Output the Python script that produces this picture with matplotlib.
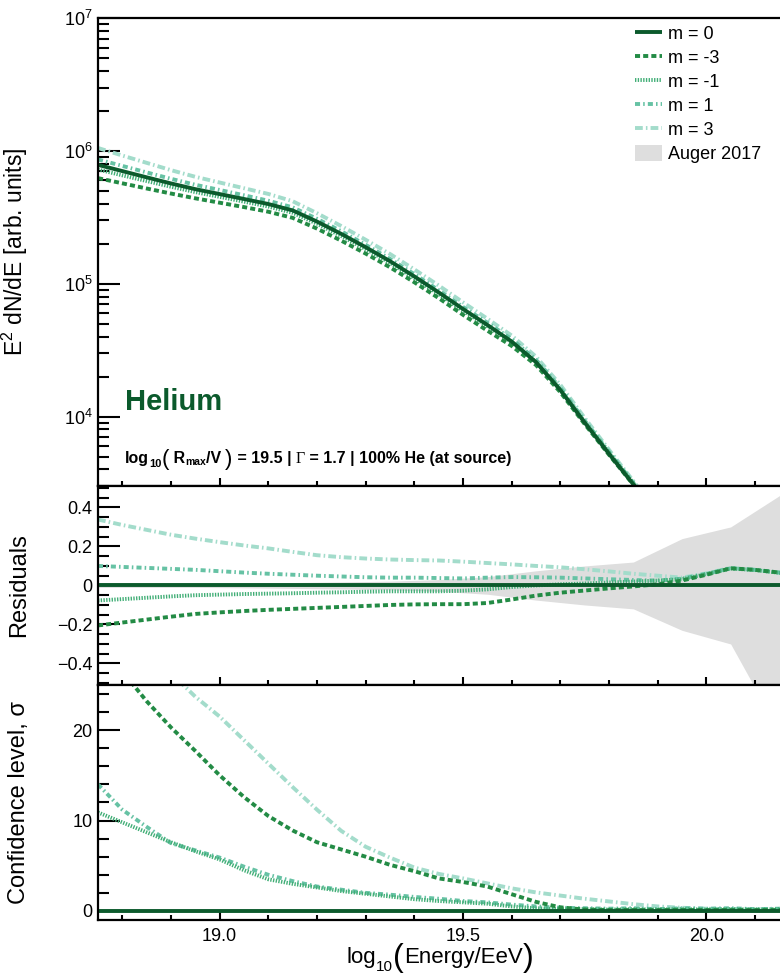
import numpy as np
import matplotlib
matplotlib.use('Agg')
import matplotlib.pyplot as plt
from matplotlib.lines import Line2D
from matplotlib.patches import Patch
from matplotlib.ticker import MultipleLocator, LogLocator, NullFormatter

plt.rcParams['font.family'] = ['Liberation Sans', 'DejaVu Sans']
plt.rcParams['mathtext.fontset'] = 'custom'
plt.rcParams['mathtext.rm'] = 'Liberation Sans'
plt.rcParams['mathtext.it'] = 'Liberation Sans:italic'
plt.rcParams['mathtext.bf'] = 'Liberation Sans:bold'

# ---- data ----
# spectrum panel, log10(E^2 dN/dE)
logE_top = [18.75, 18.80, 18.85, 18.90, 18.95, 19.00, 19.05, 19.10, 19.15, 19.20,
            19.25, 19.30, 19.35, 19.40, 19.45, 19.50, 19.55, 19.60, 19.65, 19.70,
            19.75, 19.80, 19.85, 19.90, 19.95, 20.00]
flux_m0 = [5.895, 5.848, 5.801, 5.755, 5.712, 5.675, 5.638, 5.600, 5.552, 5.468,
           5.375, 5.275, 5.170, 5.055, 4.935, 4.810, 4.690, 4.565, 4.410, 4.200,
           3.955, 3.720, 3.490, 3.250, 3.000, 2.750]
flux_mm3 = [5.795, 5.756, 5.717, 5.679, 5.643, 5.610, 5.577, 5.542, 5.496, 5.415,
            5.324, 5.227, 5.124, 5.011, 4.892, 4.766, 4.647, 4.532, 4.388, 4.184,
            3.944, 3.713, 3.488, 3.253, 3.011, 2.773]
flux_mm1 = [5.860, 5.816, 5.773, 5.730, 5.690, 5.654, 5.618, 5.581, 5.534, 5.452,
            5.359, 5.261, 5.157, 5.042, 4.922, 4.798, 4.681, 4.561, 4.410, 4.203,
            3.959, 3.727, 3.499, 3.261, 3.014, 2.775]
flux_m1 = [5.936, 5.887, 5.838, 5.790, 5.745, 5.706, 5.666, 5.625, 5.575, 5.489,
           5.395, 5.293, 5.187, 5.072, 4.951, 4.825, 4.707, 4.583, 4.428, 4.217,
           3.970, 3.734, 3.502, 3.261, 3.015, 2.775]
flux_m3 = [6.022, 5.965, 5.910, 5.855, 5.805, 5.762, 5.719, 5.676, 5.621, 5.531,
           5.434, 5.331, 5.224, 5.108, 4.987, 4.860, 4.737, 4.610, 4.451, 4.239,
           3.990, 3.750, 3.515, 3.271, 3.017, 2.776]

# residual + confidence panels
logE = [18.75, 18.80, 18.85, 18.90, 18.95, 19.00, 19.05, 19.10, 19.15, 19.20,
        19.25, 19.30, 19.35, 19.40, 19.45, 19.50, 19.55, 19.60, 19.65, 19.70,
        19.75, 19.80, 19.85, 19.90, 19.95, 20.00, 20.05, 20.10, 20.15, 20.20]
res_m0 = [0.0] * 30
res_mm3 = [-0.205, -0.19, -0.175, -0.16, -0.146, -0.138, -0.131, -0.125, -0.12, -0.115,
           -0.11, -0.105, -0.1, -0.097, -0.096, -0.096, -0.09, -0.072, -0.052, -0.037,
           -0.026, -0.015, -0.005, 0.006, 0.025, 0.055, 0.088, 0.08, 0.066, 0.06]
res_mm1 = [-0.077, -0.07, -0.063, -0.056, -0.05, -0.047, -0.044, -0.042, -0.04, -0.037,
           -0.035, -0.032, -0.03, -0.03, -0.03, -0.027, -0.02, -0.008, 0.0, 0.006,
           0.01, 0.015, 0.02, 0.025, 0.032, 0.058, 0.087, 0.079, 0.065, 0.06]
res_m1 = [0.10, 0.095, 0.09, 0.085, 0.08, 0.073, 0.066, 0.06, 0.055, 0.05,
          0.046, 0.042, 0.04, 0.04, 0.038, 0.036, 0.04, 0.043, 0.042, 0.04,
          0.036, 0.032, 0.028, 0.025, 0.035, 0.06, 0.088, 0.08, 0.066, 0.06]
res_m3 = [0.338, 0.31, 0.285, 0.26, 0.24, 0.222, 0.205, 0.19, 0.172, 0.155,
          0.145, 0.138, 0.133, 0.13, 0.128, 0.122, 0.115, 0.108, 0.1, 0.093,
          0.083, 0.072, 0.06, 0.05, 0.04, 0.062, 0.09, 0.08, 0.066, 0.06]

sig_m0 = [0.0] * 30
sig_mm3 = [30.5, 26.5, 23.2, 20.3, 17.7, 15.0, 12.6, 10.5, 8.9, 7.6,
           6.8, 6.0, 5.1, 4.4, 3.6, 3.2, 2.7, 1.85, 1.0, 0.4,
           0.15, 0.1, 0.1, 0.1, 0.1, 0.1, 0.1, 0.1, 0.1, 0.1]
sig_mm1 = [10.9, 9.8, 8.7, 7.6, 6.6, 5.7, 4.5, 3.5, 3.0, 2.6,
           2.2, 1.9, 1.6, 1.3, 1.1, 0.95, 0.8, 0.5, 0.3, 0.2,
           0.2, 0.15, 0.2, 0.15, 0.2, 0.15, 0.2, 0.15, 0.2, 0.2]
sig_m1 = [14.0, 11.2, 9.3, 7.5, 6.7, 5.9, 4.9, 4.0, 3.3, 2.7,
          2.35, 2.0, 1.8, 1.55, 1.35, 1.1, 0.95, 0.7, 0.5, 0.35,
          0.3, 0.25, 0.3, 0.2, 0.3, 0.25, 0.3, 0.2, 0.25, 0.25]
sig_m3 = [36.0, 32.5, 29.3, 26.3, 23.7, 21.5, 18.9, 16.3, 13.7, 11.2,
          8.85, 7.1, 5.9, 4.8, 4.1, 3.6, 3.05, 2.5, 2.05, 1.7,
          1.35, 1.05, 0.75, 0.5, 0.35, 0.25, 0.2, 0.2, 0.2, 0.2]

# Auger 2017 band (relative uncertainty)
logE_auger = [18.75, 18.85, 18.95, 19.05, 19.15, 19.25, 19.35, 19.45,
              19.55, 19.65, 19.75, 19.85, 19.95, 20.05, 20.15, 20.25]
auger_up = [0.01, 0.01, 0.01, 0.012, 0.015, 0.018, 0.022, 0.03,
            0.045, 0.075, 0.1, 0.12, 0.24, 0.3, 0.46, 0.6]
auger_lo = [-0.01, -0.01, -0.01, -0.012, -0.015, -0.018, -0.022, -0.03,
            -0.045, -0.075, -0.1, -0.12, -0.23, -0.3, -0.75, -1.0]

labels = ['m = 0', 'm = -3', 'm = -1', 'm = 1', 'm = 3']
colors = ['#0b5a2c', '#238b45', '#41ae76', '#66c2a4', '#a3dccb']
dashes = [None, (1.3, 0.8), (0.35, 0.35), (1.3, 0.8, 0.4, 0.8), (2.0, 0.8, 0.4, 0.8)]
lw = 2.8

top_series = [flux_m0, flux_mm3, flux_mm1, flux_m1, flux_m3]
res_series = [res_m0, res_mm3, res_mm1, res_m1, res_m3]
sig_series = [sig_m0, sig_mm3, sig_mm1, sig_m1, sig_m3]
draw_order = [4, 3, 2, 1, 0]

FW, FH = 780, 976
fig = plt.figure(figsize=(FW / 100, FH / 100), dpi=100)
L, W = 98 / FW, 730 / FW
ax1 = fig.add_axes([L, 0.502, W, 0.4795])
ax2 = fig.add_axes([L, 0.2982, W, 0.2039])
ax3 = fig.add_axes([L, 0.0574, W, 0.2408])


def style(i):
    kw = dict(color=colors[i], lw=lw, solid_capstyle='butt', dash_capstyle='butt')
    if dashes[i] is not None:
        kw['dashes'] = dashes[i]
    return kw


for i in draw_order:
    ax1.plot(logE_top, 10 ** np.array(top_series[i]), **style(i))

ax2.fill_between(logE_auger, auger_lo, auger_up, color='#dedede', lw=0, zorder=0)
for i in draw_order:
    ax2.plot(logE, res_series[i], **style(i))

for i in draw_order:
    ax3.plot(logE, sig_series[i], **style(i))

for ax in (ax1, ax2, ax3):
    ax.set_xlim(18.75, 20.25)
    ax.xaxis.set_major_locator(MultipleLocator(0.5))
    ax.xaxis.set_minor_locator(MultipleLocator(0.1))
    ax.tick_params(axis='both', which='both', direction='in', top=False, right=False,
                   width=1.5, labelsize=13, colors='black')
    ax.tick_params(axis='x', which='major', length=6)
    ax.tick_params(axis='x', which='minor', length=3.5)
    ax.tick_params(axis='y', which='major', length=16, pad=4)
    ax.tick_params(axis='y', which='minor', length=8)
    for s in ax.spines.values():
        s.set_linewidth(1.6)
    ax.spines['right'].set_visible(False)

ax1.set_yscale('log')
ax1.set_ylim(3e3, 1e7)
ax1.yaxis.set_major_locator(LogLocator(base=10, numticks=10))
ax1.yaxis.set_minor_locator(LogLocator(base=10, subs=np.arange(2, 10), numticks=20))
ax1.yaxis.set_minor_formatter(NullFormatter())
ax1.tick_params(axis='x', labelbottom=False)
ax1.set_ylabel(r'E$^{2}$ dN/dE [arb. units]', fontsize=16.5)

ax2.set_ylim(-0.51, 0.51)
ax2.set_yticks([-0.4, -0.2, 0, 0.2, 0.4], ['\u22120.4', '\u22120.2', '0', '0.2', '0.4'])
ax2.yaxis.set_minor_locator(MultipleLocator(0.05))
ax2.tick_params(axis='x', labelbottom=False)
ax2.set_ylabel('Residuals', fontsize=17)

ax3.set_ylim(-1, 25)
ax3.set_yticks([0, 10, 20])
ax3.yaxis.set_minor_locator(MultipleLocator(2))
ax3.tick_params(axis='x', which='major', pad=6)
ax3.set_ylabel('Confidence level, \u03c3', fontsize=17)

for ax in (ax1, ax2, ax3):
    ax.yaxis.set_label_coords(-68 / 730, 0.5)

renderer = fig.canvas.get_renderer()


def pieces_text(pieces, x_px, y_px, align='left', **common):
    # lay out pieces (text, size, baseline shift px, extra kwargs) side by side
    placed = []
    x = 0.0
    for s, size, dy, kw in pieces:
        opts = dict(common)
        opts.update(kw)
        t = fig.text(0, 1 - (y_px - dy) / FH, s, fontsize=size, va='baseline',
                     ha='left', **opts)
        w = t.get_window_extent(renderer).width
        placed.append((t, x))
        x += w
    x0 = x_px - x / 2 if align == 'center' else x_px
    for t, off in placed:
        t.set_x((x0 + off) / FW)


# x-axis title with tall brackets
pieces_text([('log', 16, 0, {}),
             ('10', 11, -8, {}),
             ('(', 23, -3, {}),
             ('Energy/EeV', 16, 0, {}),
             (')', 23, -3, {})],
            440, 963, align='center')

fig.text(125 / FW, 1 - 410 / FH, 'Helium', fontsize=21, fontweight='bold',
         color='#0b5a2c', va='baseline', ha='left')

pieces_text([('log', 11.5, 0, {}),
             ('10', 8, -4, {}),
             ('(', 16, -2, {'fontweight': 'normal'}),
             (' R', 11.5, 0, {}),
             ('max', 7.5, -2, {}),
             ('/V ', 11.5, 0, {}),
             (')', 16, -2, {'fontweight': 'normal'}),
             (' = 19.5 | ', 11.5, 0, {}),
             ('\u0393', 11.5, 0, {'fontweight': 'normal', 'family': 'Liberation Serif'}),
             (' = 1.7 | 100% He (at source)', 11.5, 0, {})],
            125, 463, fontweight='bold')

handles = [Line2D([], [], **style(i)) for i in range(5)]
handles.append(Patch(facecolor='#dedede', edgecolor='none'))
fig.legend(handles, labels + ['Auger 2017'], loc='upper left',
           bbox_to_anchor=(635 / FW, 1 - 25 / FH), frameon=False, fontsize=13,
           handlelength=1.5, handletextpad=0.3, labelspacing=0.32, handleheight=1.0,
           borderaxespad=0, borderpad=0)

fig.savefig('out.png', dpi=100)
